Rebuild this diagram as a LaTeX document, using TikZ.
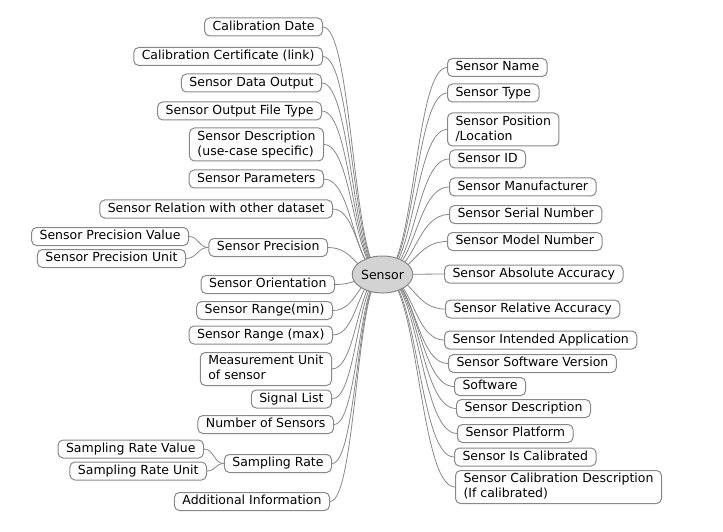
\documentclass[tikz,border=0pt]{standalone}
\usepackage{fontspec}
\setmainfont{DejaVu Sans}
\usetikzlibrary{calc,backgrounds,shapes.geometric}
\definecolor{mapgray}{HTML}{888888}
\definecolor{rootgray}{HTML}{D3D3D3}
% S-shaped branch, flat at both ends
\newcommand\twig[2]{%
	\path ($(#1)!.5!(#2)$) coordinate (mid);
	\draw[twig] (#1) .. controls (mid |- #1) and (mid |- #2) .. (#2);}
\tikzset{
	leaf/.style={draw=mapgray,fill=white,rounded corners=5pt,line width=1pt,
		inner xsep=8pt,inner ysep=2.75pt,text height=9.4pt,text depth=3.1pt,
		align=left,font=\fontsize{12.5}{15}\selectfont},
	leaftwo/.style={leaf,text height=24.4pt},
	twig/.style={draw=mapgray,line width=0.8pt},
}
\begin{document}
\begin{tikzpicture}[x=1pt,y=-1pt]
	\useasboundingbox (0,-1) rectangle (723,531);
	\node[ellipse,draw=mapgray,fill=rootgray,line width=1pt,minimum width=59pt,
		minimum height=37pt,inner sep=0pt,font=\fontsize{12.5}{15}\selectfont]
		(root) at (382.5,273.5) {Sensor};
	% left side
	\begin{scope}[every node/.style={leaf,anchor=east}]
		\node (cdate) at (323,26) {Calibration Date};
		\node (ccert) at (323,55.5) {Calibration Certificate (link)};
		\node (dout) at (322,82) {Sensor Data Output};
		\node (ftype) at (322,110) {Sensor Output File Type};
		\node[leaftwo] (sdesc) at (324,143.5) {Sensor Description\\(use-case specific)};
		\node (param) at (324,178) {Sensor Parameters};
		\node (rel) at (333,208) {Sensor Relation with other dataset};
		\node (prec) at (328,246.5) {Sensor Precision};
		\node (precval) at (189,235.5) {Sensor Precision Value};
		\node (precunit) at (186,257.5) {Sensor Precision Unit};
		\node (orient) at (335,283.5) {Sensor Orientation};
		\node (rmin) at (333,309.5) {Sensor Range(min)};
		\node (rmax) at (333,334) {Sensor Range (max)};
		\node[leaftwo] (munit) at (332,368) {Measurement Unit\\of sensor};
		\node (sig) at (332,398) {Signal List};
		\node (num) at (334,423.5) {Number of Sensors};
		\node (srate) at (332,462.5) {Sampling Rate};
		\node (srval) at (204,448) {Sampling Rate Value};
		\node (srunit) at (207,470) {Sampling Rate Unit};
		\node (addinfo) at (330,500.5) {Additional Information};
	\end{scope}
	% right side
	\begin{scope}[every node/.style={leaf,anchor=west}]
		\node (name) at (447,66.5) {Sensor Name};
		\node (type) at (447,92) {Sensor Type};
		\node[leaftwo] (pos) at (447,128.5) {Sensor Position\\/Location};
		\node (id) at (449,158) {Sensor ID};
		\node (manu) at (449,186) {Sensor Manufacturer};
		\node (serial) at (449,213.5) {Sensor Serial Number};
		\node (model) at (447,240.5) {Sensor Model Number};
		\node (absacc) at (444,273) {Sensor Absolute Accuracy};
		\node (relacc) at (445,308) {Sensor Relative Accuracy};
		\node (app) at (444,339) {Sensor Intended Application};
		\node (swver) at (448,362.5) {Sensor Software Version};
		\node (sw) at (454,385.5) {Software};
		\node (rdesc) at (456,407.5) {Sensor Description};
		\node (plat) at (457,432.5) {Sensor Platform};
		\node (iscal) at (454,456) {Sensor Is Calibrated};
		\node[leaftwo] (caldesc) at (455,486) {Sensor Calibration Description\\(If calibrated)};
	\end{scope}
	\begin{scope}[on background layer]
		\foreach \n in {cdate,ccert,dout,ftype,sdesc,param,rel,prec,orient,rmin,rmax,munit,sig,num,srate,addinfo}{
			\twig{root.center}{\n.east}
		}
		\foreach \n in {name,type,pos,id,manu,serial,model,absacc,relacc,app,swver,sw,rdesc,plat,iscal,caldesc}{
			\twig{root.center}{\n.west}
		}
		\twig{prec.west}{precval.east}
		\twig{prec.west}{precunit.east}
		\twig{srate.west}{srval.east}
		\twig{srate.west}{srunit.east}
	\end{scope}
\end{tikzpicture}
\end{document}
